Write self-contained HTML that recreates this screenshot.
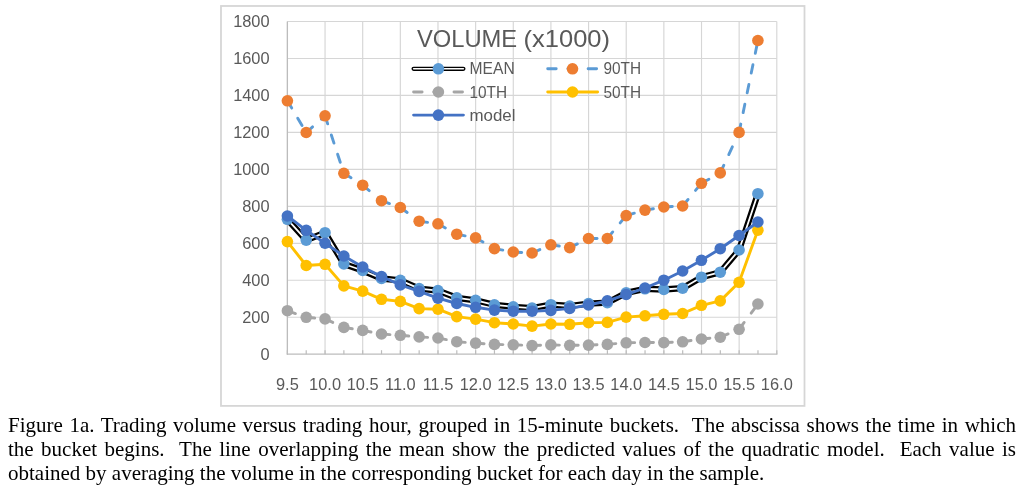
<!DOCTYPE html>
<html><head><meta charset="utf-8"><title>Figure 1a</title>
<style>
html,body{margin:0;padding:0;background:#fff;}
body{width:1027px;height:489px;position:relative;overflow:hidden;}
.cap{position:absolute;left:8px;top:413px;width:1008px;font-family:"Liberation Serif","Times New Roman",serif;font-size:21px;line-height:24px;color:#000;}
.cap div{white-space:pre;text-align:justify;text-align-last:justify;height:24px;}
.cap div.last{text-align-last:left;}
</style></head><body>
<svg width="1027" height="489" viewBox="0 0 1027 489" style="position:absolute;left:0;top:0" font-family="'Liberation Sans', Arial, sans-serif">
<rect x="221" y="6" width="583.5" height="399.9" fill="#fff" stroke="#d6d6d6" stroke-width="1.8"/>
<line x1="287.4" y1="317.23" x2="776.8" y2="317.23" stroke="#d6d6d6" stroke-width="1.15"/>
<line x1="287.4" y1="280.27" x2="776.8" y2="280.27" stroke="#d6d6d6" stroke-width="1.15"/>
<line x1="287.4" y1="243.30" x2="776.8" y2="243.30" stroke="#d6d6d6" stroke-width="1.15"/>
<line x1="287.4" y1="206.33" x2="776.8" y2="206.33" stroke="#d6d6d6" stroke-width="1.15"/>
<line x1="287.4" y1="169.37" x2="776.8" y2="169.37" stroke="#d6d6d6" stroke-width="1.15"/>
<line x1="287.4" y1="132.40" x2="776.8" y2="132.40" stroke="#d6d6d6" stroke-width="1.15"/>
<line x1="287.4" y1="95.43" x2="776.8" y2="95.43" stroke="#d6d6d6" stroke-width="1.15"/>
<line x1="287.4" y1="58.47" x2="776.8" y2="58.47" stroke="#d6d6d6" stroke-width="1.15"/>
<line x1="287.4" y1="21.50" x2="776.8" y2="21.50" stroke="#d6d6d6" stroke-width="1.15"/>
<line x1="287.40" y1="21.5" x2="287.40" y2="354.2" stroke="#d6d6d6" stroke-width="1.15"/>
<line x1="325.05" y1="21.5" x2="325.05" y2="354.2" stroke="#d6d6d6" stroke-width="1.15"/>
<line x1="362.69" y1="21.5" x2="362.69" y2="354.2" stroke="#d6d6d6" stroke-width="1.15"/>
<line x1="400.34" y1="21.5" x2="400.34" y2="354.2" stroke="#d6d6d6" stroke-width="1.15"/>
<line x1="437.98" y1="21.5" x2="437.98" y2="354.2" stroke="#d6d6d6" stroke-width="1.15"/>
<line x1="475.63" y1="21.5" x2="475.63" y2="354.2" stroke="#d6d6d6" stroke-width="1.15"/>
<line x1="513.28" y1="21.5" x2="513.28" y2="354.2" stroke="#d6d6d6" stroke-width="1.15"/>
<line x1="550.92" y1="21.5" x2="550.92" y2="354.2" stroke="#d6d6d6" stroke-width="1.15"/>
<line x1="588.57" y1="21.5" x2="588.57" y2="354.2" stroke="#d6d6d6" stroke-width="1.15"/>
<line x1="626.22" y1="21.5" x2="626.22" y2="354.2" stroke="#d6d6d6" stroke-width="1.15"/>
<line x1="663.86" y1="21.5" x2="663.86" y2="354.2" stroke="#d6d6d6" stroke-width="1.15"/>
<line x1="701.51" y1="21.5" x2="701.51" y2="354.2" stroke="#d6d6d6" stroke-width="1.15"/>
<line x1="739.15" y1="21.5" x2="739.15" y2="354.2" stroke="#d6d6d6" stroke-width="1.15"/>
<line x1="776.80" y1="21.5" x2="776.80" y2="354.2" stroke="#d6d6d6" stroke-width="1.15"/>
<line x1="287.4" y1="21.5" x2="287.4" y2="354.8" stroke="#bcbcbc" stroke-width="1.25"/>
<line x1="286.79999999999995" y1="354.2" x2="777.4" y2="354.2" stroke="#bcbcbc" stroke-width="1.25"/>
<line x1="287.40" y1="350.2" x2="287.40" y2="354.2" stroke="#bcbcbc" stroke-width="1.2"/>
<line x1="306.22" y1="350.2" x2="306.22" y2="354.2" stroke="#bcbcbc" stroke-width="1.2"/>
<line x1="325.05" y1="350.2" x2="325.05" y2="354.2" stroke="#bcbcbc" stroke-width="1.2"/>
<line x1="343.87" y1="350.2" x2="343.87" y2="354.2" stroke="#bcbcbc" stroke-width="1.2"/>
<line x1="362.69" y1="350.2" x2="362.69" y2="354.2" stroke="#bcbcbc" stroke-width="1.2"/>
<line x1="381.52" y1="350.2" x2="381.52" y2="354.2" stroke="#bcbcbc" stroke-width="1.2"/>
<line x1="400.34" y1="350.2" x2="400.34" y2="354.2" stroke="#bcbcbc" stroke-width="1.2"/>
<line x1="419.16" y1="350.2" x2="419.16" y2="354.2" stroke="#bcbcbc" stroke-width="1.2"/>
<line x1="437.98" y1="350.2" x2="437.98" y2="354.2" stroke="#bcbcbc" stroke-width="1.2"/>
<line x1="456.81" y1="350.2" x2="456.81" y2="354.2" stroke="#bcbcbc" stroke-width="1.2"/>
<line x1="475.63" y1="350.2" x2="475.63" y2="354.2" stroke="#bcbcbc" stroke-width="1.2"/>
<line x1="494.45" y1="350.2" x2="494.45" y2="354.2" stroke="#bcbcbc" stroke-width="1.2"/>
<line x1="513.28" y1="350.2" x2="513.28" y2="354.2" stroke="#bcbcbc" stroke-width="1.2"/>
<line x1="532.10" y1="350.2" x2="532.10" y2="354.2" stroke="#bcbcbc" stroke-width="1.2"/>
<line x1="550.92" y1="350.2" x2="550.92" y2="354.2" stroke="#bcbcbc" stroke-width="1.2"/>
<line x1="569.75" y1="350.2" x2="569.75" y2="354.2" stroke="#bcbcbc" stroke-width="1.2"/>
<line x1="588.57" y1="350.2" x2="588.57" y2="354.2" stroke="#bcbcbc" stroke-width="1.2"/>
<line x1="607.39" y1="350.2" x2="607.39" y2="354.2" stroke="#bcbcbc" stroke-width="1.2"/>
<line x1="626.22" y1="350.2" x2="626.22" y2="354.2" stroke="#bcbcbc" stroke-width="1.2"/>
<line x1="645.04" y1="350.2" x2="645.04" y2="354.2" stroke="#bcbcbc" stroke-width="1.2"/>
<line x1="663.86" y1="350.2" x2="663.86" y2="354.2" stroke="#bcbcbc" stroke-width="1.2"/>
<line x1="682.68" y1="350.2" x2="682.68" y2="354.2" stroke="#bcbcbc" stroke-width="1.2"/>
<line x1="701.51" y1="350.2" x2="701.51" y2="354.2" stroke="#bcbcbc" stroke-width="1.2"/>
<line x1="720.33" y1="350.2" x2="720.33" y2="354.2" stroke="#bcbcbc" stroke-width="1.2"/>
<line x1="739.15" y1="350.2" x2="739.15" y2="354.2" stroke="#bcbcbc" stroke-width="1.2"/>
<line x1="757.98" y1="350.2" x2="757.98" y2="354.2" stroke="#bcbcbc" stroke-width="1.2"/>
<line x1="776.80" y1="350.2" x2="776.80" y2="354.2" stroke="#bcbcbc" stroke-width="1.2"/>
<text x="269.6" y="360.10" font-size="16.4" fill="#595959" text-anchor="end">0</text>
<text x="269.6" y="323.13" font-size="16.4" fill="#595959" text-anchor="end">200</text>
<text x="269.6" y="286.17" font-size="16.4" fill="#595959" text-anchor="end">400</text>
<text x="269.6" y="249.20" font-size="16.4" fill="#595959" text-anchor="end">600</text>
<text x="269.6" y="212.23" font-size="16.4" fill="#595959" text-anchor="end">800</text>
<text x="269.6" y="175.27" font-size="16.4" fill="#595959" text-anchor="end">1000</text>
<text x="269.6" y="138.30" font-size="16.4" fill="#595959" text-anchor="end">1200</text>
<text x="269.6" y="101.33" font-size="16.4" fill="#595959" text-anchor="end">1400</text>
<text x="269.6" y="64.37" font-size="16.4" fill="#595959" text-anchor="end">1600</text>
<text x="269.6" y="27.40" font-size="16.4" fill="#595959" text-anchor="end">1800</text>
<text x="287.40" y="390" font-size="16.4" fill="#595959" text-anchor="middle">9.5</text>
<text x="325.05" y="390" font-size="16.4" fill="#595959" text-anchor="middle">10.0</text>
<text x="362.69" y="390" font-size="16.4" fill="#595959" text-anchor="middle">10.5</text>
<text x="400.34" y="390" font-size="16.4" fill="#595959" text-anchor="middle">11.0</text>
<text x="437.98" y="390" font-size="16.4" fill="#595959" text-anchor="middle">11.5</text>
<text x="475.63" y="390" font-size="16.4" fill="#595959" text-anchor="middle">12.0</text>
<text x="513.28" y="390" font-size="16.4" fill="#595959" text-anchor="middle">12.5</text>
<text x="550.92" y="390" font-size="16.4" fill="#595959" text-anchor="middle">13.0</text>
<text x="588.57" y="390" font-size="16.4" fill="#595959" text-anchor="middle">13.5</text>
<text x="626.22" y="390" font-size="16.4" fill="#595959" text-anchor="middle">14.0</text>
<text x="663.86" y="390" font-size="16.4" fill="#595959" text-anchor="middle">14.5</text>
<text x="701.51" y="390" font-size="16.4" fill="#595959" text-anchor="middle">15.0</text>
<text x="739.15" y="390" font-size="16.4" fill="#595959" text-anchor="middle">15.5</text>
<text x="776.80" y="390" font-size="16.4" fill="#595959" text-anchor="middle">16.0</text>
<text x="416.9" y="47.3" font-size="24" fill="#595959" textLength="100.3" lengthAdjust="spacingAndGlyphs">VOLUME</text>
<text x="523.5" y="47.3" font-size="24" fill="#595959" textLength="86.5" lengthAdjust="spacingAndGlyphs">(x1000)</text>
<polyline points="287.40,219.30 306.22,240.10 325.04,232.70 343.86,264.00 362.68,270.50 381.50,278.50 400.32,280.40 419.14,288.60 437.96,290.60 456.78,297.80 475.60,300.30 494.42,304.80 513.24,306.80 532.06,308.10 550.88,304.70 569.70,306.00 588.52,303.60 607.34,302.70 626.16,292.90 644.98,288.80 663.80,289.50 682.62,288.20 701.44,277.20 720.26,272.20 739.08,250.00 757.90,193.70" fill="none" stroke="#000" stroke-width="6.3" stroke-linecap="round" stroke-linejoin="round"/>
<polyline points="287.40,219.30 306.22,240.10 325.04,232.70 343.86,264.00 362.68,270.50 381.50,278.50 400.32,280.40 419.14,288.60 437.96,290.60 456.78,297.80 475.60,300.30 494.42,304.80 513.24,306.80 532.06,308.10 550.88,304.70 569.70,306.00 588.52,303.60 607.34,302.70 626.16,292.90 644.98,288.80 663.80,289.50 682.62,288.20 701.44,277.20 720.26,272.20 739.08,250.00 757.90,193.70" fill="none" stroke="#fff" stroke-width="1.8" stroke-linecap="round" stroke-linejoin="round"/>
<circle cx="287.40" cy="219.30" r="5.8" fill="#5b9bd5"/><circle cx="306.22" cy="240.10" r="5.8" fill="#5b9bd5"/><circle cx="325.04" cy="232.70" r="5.8" fill="#5b9bd5"/><circle cx="343.86" cy="264.00" r="5.8" fill="#5b9bd5"/><circle cx="362.68" cy="270.50" r="5.8" fill="#5b9bd5"/><circle cx="381.50" cy="278.50" r="5.8" fill="#5b9bd5"/><circle cx="400.32" cy="280.40" r="5.8" fill="#5b9bd5"/><circle cx="419.14" cy="288.60" r="5.8" fill="#5b9bd5"/><circle cx="437.96" cy="290.60" r="5.8" fill="#5b9bd5"/><circle cx="456.78" cy="297.80" r="5.8" fill="#5b9bd5"/><circle cx="475.60" cy="300.30" r="5.8" fill="#5b9bd5"/><circle cx="494.42" cy="304.80" r="5.8" fill="#5b9bd5"/><circle cx="513.24" cy="306.80" r="5.8" fill="#5b9bd5"/><circle cx="532.06" cy="308.10" r="5.8" fill="#5b9bd5"/><circle cx="550.88" cy="304.70" r="5.8" fill="#5b9bd5"/><circle cx="569.70" cy="306.00" r="5.8" fill="#5b9bd5"/><circle cx="588.52" cy="303.60" r="5.8" fill="#5b9bd5"/><circle cx="607.34" cy="302.70" r="5.8" fill="#5b9bd5"/><circle cx="626.16" cy="292.90" r="5.8" fill="#5b9bd5"/><circle cx="644.98" cy="288.80" r="5.8" fill="#5b9bd5"/><circle cx="663.80" cy="289.50" r="5.8" fill="#5b9bd5"/><circle cx="682.62" cy="288.20" r="5.8" fill="#5b9bd5"/><circle cx="701.44" cy="277.20" r="5.8" fill="#5b9bd5"/><circle cx="720.26" cy="272.20" r="5.8" fill="#5b9bd5"/><circle cx="739.08" cy="250.00" r="5.8" fill="#5b9bd5"/><circle cx="757.90" cy="193.70" r="5.8" fill="#5b9bd5"/>
<line x1="287.40" y1="100.80" x2="306.22" y2="132.50" stroke="#5b9bd5" stroke-width="2.9" stroke-dasharray="8.5 11.7" stroke-linecap="round"/><line x1="306.22" y1="132.50" x2="325.04" y2="115.80" stroke="#5b9bd5" stroke-width="2.9" stroke-dasharray="8.5 11.7" stroke-linecap="round"/><line x1="325.04" y1="115.80" x2="343.86" y2="173.30" stroke="#5b9bd5" stroke-width="2.9" stroke-dasharray="8.5 11.7" stroke-linecap="round"/><line x1="343.86" y1="173.30" x2="362.68" y2="185.20" stroke="#5b9bd5" stroke-width="2.9" stroke-dasharray="8.5 11.7" stroke-linecap="round"/><line x1="362.68" y1="185.20" x2="381.50" y2="200.70" stroke="#5b9bd5" stroke-width="2.9" stroke-dasharray="8.5 11.7" stroke-linecap="round"/><line x1="381.50" y1="200.70" x2="400.32" y2="207.50" stroke="#5b9bd5" stroke-width="2.9" stroke-dasharray="8.5 11.7" stroke-linecap="round"/><line x1="400.32" y1="207.50" x2="419.14" y2="221.20" stroke="#5b9bd5" stroke-width="2.9" stroke-dasharray="8.5 11.7" stroke-linecap="round"/><line x1="419.14" y1="221.20" x2="437.96" y2="223.80" stroke="#5b9bd5" stroke-width="2.9" stroke-dasharray="8.5 11.7" stroke-linecap="round"/><line x1="437.96" y1="223.80" x2="456.78" y2="234.20" stroke="#5b9bd5" stroke-width="2.9" stroke-dasharray="8.5 11.7" stroke-linecap="round"/><line x1="456.78" y1="234.20" x2="475.60" y2="237.90" stroke="#5b9bd5" stroke-width="2.9" stroke-dasharray="8.5 11.7" stroke-linecap="round"/><line x1="475.60" y1="237.90" x2="494.42" y2="248.60" stroke="#5b9bd5" stroke-width="2.9" stroke-dasharray="8.5 11.7" stroke-linecap="round"/><line x1="494.42" y1="248.60" x2="513.24" y2="252.00" stroke="#5b9bd5" stroke-width="2.9" stroke-dasharray="8.5 11.7" stroke-linecap="round"/><line x1="513.24" y1="252.00" x2="532.06" y2="253.00" stroke="#5b9bd5" stroke-width="2.9" stroke-dasharray="8.5 11.7" stroke-linecap="round"/><line x1="532.06" y1="253.00" x2="550.88" y2="244.80" stroke="#5b9bd5" stroke-width="2.9" stroke-dasharray="8.5 11.7" stroke-linecap="round"/><line x1="550.88" y1="244.80" x2="569.70" y2="247.60" stroke="#5b9bd5" stroke-width="2.9" stroke-dasharray="8.5 11.7" stroke-linecap="round"/><line x1="569.70" y1="247.60" x2="588.52" y2="238.50" stroke="#5b9bd5" stroke-width="2.9" stroke-dasharray="8.5 11.7" stroke-linecap="round"/><line x1="588.52" y1="238.50" x2="607.34" y2="238.50" stroke="#5b9bd5" stroke-width="2.9" stroke-dasharray="8.5 11.7" stroke-linecap="round"/><line x1="607.34" y1="238.50" x2="626.16" y2="215.60" stroke="#5b9bd5" stroke-width="2.9" stroke-dasharray="8.5 11.7" stroke-linecap="round"/><line x1="626.16" y1="215.60" x2="644.98" y2="210.10" stroke="#5b9bd5" stroke-width="2.9" stroke-dasharray="8.5 11.7" stroke-linecap="round"/><line x1="644.98" y1="210.10" x2="663.80" y2="207.00" stroke="#5b9bd5" stroke-width="2.9" stroke-dasharray="8.5 11.7" stroke-linecap="round"/><line x1="663.80" y1="207.00" x2="682.62" y2="206.00" stroke="#5b9bd5" stroke-width="2.9" stroke-dasharray="8.5 11.7" stroke-linecap="round"/><line x1="682.62" y1="206.00" x2="701.44" y2="183.30" stroke="#5b9bd5" stroke-width="2.9" stroke-dasharray="8.5 11.7" stroke-linecap="round"/><line x1="701.44" y1="183.30" x2="720.26" y2="172.90" stroke="#5b9bd5" stroke-width="2.9" stroke-dasharray="8.5 11.7" stroke-linecap="round"/><line x1="720.26" y1="172.90" x2="739.08" y2="132.40" stroke="#5b9bd5" stroke-width="2.9" stroke-dasharray="8.5 11.7" stroke-linecap="round"/><line x1="739.08" y1="132.40" x2="757.90" y2="40.50" stroke="#5b9bd5" stroke-width="2.9" stroke-dasharray="8.5 11.7" stroke-linecap="round"/>
<circle cx="287.40" cy="100.80" r="5.8" fill="#ed7d31"/><circle cx="306.22" cy="132.50" r="5.8" fill="#ed7d31"/><circle cx="325.04" cy="115.80" r="5.8" fill="#ed7d31"/><circle cx="343.86" cy="173.30" r="5.8" fill="#ed7d31"/><circle cx="362.68" cy="185.20" r="5.8" fill="#ed7d31"/><circle cx="381.50" cy="200.70" r="5.8" fill="#ed7d31"/><circle cx="400.32" cy="207.50" r="5.8" fill="#ed7d31"/><circle cx="419.14" cy="221.20" r="5.8" fill="#ed7d31"/><circle cx="437.96" cy="223.80" r="5.8" fill="#ed7d31"/><circle cx="456.78" cy="234.20" r="5.8" fill="#ed7d31"/><circle cx="475.60" cy="237.90" r="5.8" fill="#ed7d31"/><circle cx="494.42" cy="248.60" r="5.8" fill="#ed7d31"/><circle cx="513.24" cy="252.00" r="5.8" fill="#ed7d31"/><circle cx="532.06" cy="253.00" r="5.8" fill="#ed7d31"/><circle cx="550.88" cy="244.80" r="5.8" fill="#ed7d31"/><circle cx="569.70" cy="247.60" r="5.8" fill="#ed7d31"/><circle cx="588.52" cy="238.50" r="5.8" fill="#ed7d31"/><circle cx="607.34" cy="238.50" r="5.8" fill="#ed7d31"/><circle cx="626.16" cy="215.60" r="5.8" fill="#ed7d31"/><circle cx="644.98" cy="210.10" r="5.8" fill="#ed7d31"/><circle cx="663.80" cy="207.00" r="5.8" fill="#ed7d31"/><circle cx="682.62" cy="206.00" r="5.8" fill="#ed7d31"/><circle cx="701.44" cy="183.30" r="5.8" fill="#ed7d31"/><circle cx="720.26" cy="172.90" r="5.8" fill="#ed7d31"/><circle cx="739.08" cy="132.40" r="5.8" fill="#ed7d31"/><circle cx="757.90" cy="40.50" r="5.8" fill="#ed7d31"/>
<line x1="287.40" y1="310.70" x2="306.22" y2="317.30" stroke="#a5a5a5" stroke-width="2.9" stroke-dasharray="8.5 11.7" stroke-linecap="round"/><line x1="306.22" y1="317.30" x2="325.04" y2="318.90" stroke="#a5a5a5" stroke-width="2.9" stroke-dasharray="8.5 11.7" stroke-linecap="round"/><line x1="325.04" y1="318.90" x2="343.86" y2="327.40" stroke="#a5a5a5" stroke-width="2.9" stroke-dasharray="8.5 11.7" stroke-linecap="round"/><line x1="343.86" y1="327.40" x2="362.68" y2="330.40" stroke="#a5a5a5" stroke-width="2.9" stroke-dasharray="8.5 11.7" stroke-linecap="round"/><line x1="362.68" y1="330.40" x2="381.50" y2="334.00" stroke="#a5a5a5" stroke-width="2.9" stroke-dasharray="8.5 11.7" stroke-linecap="round"/><line x1="381.50" y1="334.00" x2="400.32" y2="335.30" stroke="#a5a5a5" stroke-width="2.9" stroke-dasharray="8.5 11.7" stroke-linecap="round"/><line x1="400.32" y1="335.30" x2="419.14" y2="336.90" stroke="#a5a5a5" stroke-width="2.9" stroke-dasharray="8.5 11.7" stroke-linecap="round"/><line x1="419.14" y1="336.90" x2="437.96" y2="338.00" stroke="#a5a5a5" stroke-width="2.9" stroke-dasharray="8.5 11.7" stroke-linecap="round"/><line x1="437.96" y1="338.00" x2="456.78" y2="341.70" stroke="#a5a5a5" stroke-width="2.9" stroke-dasharray="8.5 11.7" stroke-linecap="round"/><line x1="456.78" y1="341.70" x2="475.60" y2="343.10" stroke="#a5a5a5" stroke-width="2.9" stroke-dasharray="8.5 11.7" stroke-linecap="round"/><line x1="475.60" y1="343.10" x2="494.42" y2="344.40" stroke="#a5a5a5" stroke-width="2.9" stroke-dasharray="8.5 11.7" stroke-linecap="round"/><line x1="494.42" y1="344.40" x2="513.24" y2="344.80" stroke="#a5a5a5" stroke-width="2.9" stroke-dasharray="8.5 11.7" stroke-linecap="round"/><line x1="513.24" y1="344.80" x2="532.06" y2="345.60" stroke="#a5a5a5" stroke-width="2.9" stroke-dasharray="8.5 11.7" stroke-linecap="round"/><line x1="532.06" y1="345.60" x2="550.88" y2="344.90" stroke="#a5a5a5" stroke-width="2.9" stroke-dasharray="8.5 11.7" stroke-linecap="round"/><line x1="550.88" y1="344.90" x2="569.70" y2="345.30" stroke="#a5a5a5" stroke-width="2.9" stroke-dasharray="8.5 11.7" stroke-linecap="round"/><line x1="569.70" y1="345.30" x2="588.52" y2="345.10" stroke="#a5a5a5" stroke-width="2.9" stroke-dasharray="8.5 11.7" stroke-linecap="round"/><line x1="588.52" y1="345.10" x2="607.34" y2="344.40" stroke="#a5a5a5" stroke-width="2.9" stroke-dasharray="8.5 11.7" stroke-linecap="round"/><line x1="607.34" y1="344.40" x2="626.16" y2="342.80" stroke="#a5a5a5" stroke-width="2.9" stroke-dasharray="8.5 11.7" stroke-linecap="round"/><line x1="626.16" y1="342.80" x2="644.98" y2="342.50" stroke="#a5a5a5" stroke-width="2.9" stroke-dasharray="8.5 11.7" stroke-linecap="round"/><line x1="644.98" y1="342.50" x2="663.80" y2="342.60" stroke="#a5a5a5" stroke-width="2.9" stroke-dasharray="8.5 11.7" stroke-linecap="round"/><line x1="663.80" y1="342.60" x2="682.62" y2="341.80" stroke="#a5a5a5" stroke-width="2.9" stroke-dasharray="8.5 11.7" stroke-linecap="round"/><line x1="682.62" y1="341.80" x2="701.44" y2="339.00" stroke="#a5a5a5" stroke-width="2.9" stroke-dasharray="8.5 11.7" stroke-linecap="round"/><line x1="701.44" y1="339.00" x2="720.26" y2="337.20" stroke="#a5a5a5" stroke-width="2.9" stroke-dasharray="8.5 11.7" stroke-linecap="round"/><line x1="720.26" y1="337.20" x2="739.08" y2="329.30" stroke="#a5a5a5" stroke-width="2.9" stroke-dasharray="8.5 11.7" stroke-linecap="round"/><line x1="739.08" y1="329.30" x2="757.90" y2="304.00" stroke="#a5a5a5" stroke-width="2.9" stroke-dasharray="8.5 11.7" stroke-linecap="round"/>
<circle cx="287.40" cy="310.70" r="5.8" fill="#a5a5a5"/><circle cx="306.22" cy="317.30" r="5.8" fill="#a5a5a5"/><circle cx="325.04" cy="318.90" r="5.8" fill="#a5a5a5"/><circle cx="343.86" cy="327.40" r="5.8" fill="#a5a5a5"/><circle cx="362.68" cy="330.40" r="5.8" fill="#a5a5a5"/><circle cx="381.50" cy="334.00" r="5.8" fill="#a5a5a5"/><circle cx="400.32" cy="335.30" r="5.8" fill="#a5a5a5"/><circle cx="419.14" cy="336.90" r="5.8" fill="#a5a5a5"/><circle cx="437.96" cy="338.00" r="5.8" fill="#a5a5a5"/><circle cx="456.78" cy="341.70" r="5.8" fill="#a5a5a5"/><circle cx="475.60" cy="343.10" r="5.8" fill="#a5a5a5"/><circle cx="494.42" cy="344.40" r="5.8" fill="#a5a5a5"/><circle cx="513.24" cy="344.80" r="5.8" fill="#a5a5a5"/><circle cx="532.06" cy="345.60" r="5.8" fill="#a5a5a5"/><circle cx="550.88" cy="344.90" r="5.8" fill="#a5a5a5"/><circle cx="569.70" cy="345.30" r="5.8" fill="#a5a5a5"/><circle cx="588.52" cy="345.10" r="5.8" fill="#a5a5a5"/><circle cx="607.34" cy="344.40" r="5.8" fill="#a5a5a5"/><circle cx="626.16" cy="342.80" r="5.8" fill="#a5a5a5"/><circle cx="644.98" cy="342.50" r="5.8" fill="#a5a5a5"/><circle cx="663.80" cy="342.60" r="5.8" fill="#a5a5a5"/><circle cx="682.62" cy="341.80" r="5.8" fill="#a5a5a5"/><circle cx="701.44" cy="339.00" r="5.8" fill="#a5a5a5"/><circle cx="720.26" cy="337.20" r="5.8" fill="#a5a5a5"/><circle cx="739.08" cy="329.30" r="5.8" fill="#a5a5a5"/><circle cx="757.90" cy="304.00" r="5.8" fill="#a5a5a5"/>
<polyline points="287.40,241.60 306.22,265.50 325.04,264.30 343.86,285.90 362.68,291.10 381.50,299.30 400.32,301.40 419.14,308.60 437.96,309.20 456.78,316.60 475.60,319.10 494.42,322.70 513.24,324.00 532.06,326.10 550.88,324.00 569.70,324.30 588.52,322.70 607.34,322.40 626.16,317.10 644.98,315.80 663.80,314.30 682.62,313.50 701.44,305.30 720.26,300.90 739.08,282.30 757.90,230.20" fill="none" stroke="#ffc000" stroke-width="2.9" stroke-linecap="round" stroke-linejoin="round"/>
<circle cx="287.40" cy="241.60" r="5.8" fill="#ffc000"/><circle cx="306.22" cy="265.50" r="5.8" fill="#ffc000"/><circle cx="325.04" cy="264.30" r="5.8" fill="#ffc000"/><circle cx="343.86" cy="285.90" r="5.8" fill="#ffc000"/><circle cx="362.68" cy="291.10" r="5.8" fill="#ffc000"/><circle cx="381.50" cy="299.30" r="5.8" fill="#ffc000"/><circle cx="400.32" cy="301.40" r="5.8" fill="#ffc000"/><circle cx="419.14" cy="308.60" r="5.8" fill="#ffc000"/><circle cx="437.96" cy="309.20" r="5.8" fill="#ffc000"/><circle cx="456.78" cy="316.60" r="5.8" fill="#ffc000"/><circle cx="475.60" cy="319.10" r="5.8" fill="#ffc000"/><circle cx="494.42" cy="322.70" r="5.8" fill="#ffc000"/><circle cx="513.24" cy="324.00" r="5.8" fill="#ffc000"/><circle cx="532.06" cy="326.10" r="5.8" fill="#ffc000"/><circle cx="550.88" cy="324.00" r="5.8" fill="#ffc000"/><circle cx="569.70" cy="324.30" r="5.8" fill="#ffc000"/><circle cx="588.52" cy="322.70" r="5.8" fill="#ffc000"/><circle cx="607.34" cy="322.40" r="5.8" fill="#ffc000"/><circle cx="626.16" cy="317.10" r="5.8" fill="#ffc000"/><circle cx="644.98" cy="315.80" r="5.8" fill="#ffc000"/><circle cx="663.80" cy="314.30" r="5.8" fill="#ffc000"/><circle cx="682.62" cy="313.50" r="5.8" fill="#ffc000"/><circle cx="701.44" cy="305.30" r="5.8" fill="#ffc000"/><circle cx="720.26" cy="300.90" r="5.8" fill="#ffc000"/><circle cx="739.08" cy="282.30" r="5.8" fill="#ffc000"/><circle cx="757.90" cy="230.20" r="5.8" fill="#ffc000"/>
<polyline points="287.40,216.00 306.22,230.30 325.04,243.20 343.86,256.00 362.68,267.00 381.50,276.50 400.32,284.90 419.14,291.40 437.96,298.20 456.78,303.50 475.60,307.30 494.42,310.10 513.24,311.20 532.06,311.20 550.88,310.40 569.70,308.40 588.52,305.00 607.34,300.80 626.16,294.50 644.98,288.00 663.80,280.20 682.62,271.00 701.44,260.30 720.26,248.70 739.08,235.50 757.90,222.00" fill="none" stroke="#4472c4" stroke-width="2.9" stroke-linecap="round" stroke-linejoin="round"/>
<circle cx="287.40" cy="216.00" r="5.8" fill="#4472c4"/><circle cx="306.22" cy="230.30" r="5.8" fill="#4472c4"/><circle cx="325.04" cy="243.20" r="5.8" fill="#4472c4"/><circle cx="343.86" cy="256.00" r="5.8" fill="#4472c4"/><circle cx="362.68" cy="267.00" r="5.8" fill="#4472c4"/><circle cx="381.50" cy="276.50" r="5.8" fill="#4472c4"/><circle cx="400.32" cy="284.90" r="5.8" fill="#4472c4"/><circle cx="419.14" cy="291.40" r="5.8" fill="#4472c4"/><circle cx="437.96" cy="298.20" r="5.8" fill="#4472c4"/><circle cx="456.78" cy="303.50" r="5.8" fill="#4472c4"/><circle cx="475.60" cy="307.30" r="5.8" fill="#4472c4"/><circle cx="494.42" cy="310.10" r="5.8" fill="#4472c4"/><circle cx="513.24" cy="311.20" r="5.8" fill="#4472c4"/><circle cx="532.06" cy="311.20" r="5.8" fill="#4472c4"/><circle cx="550.88" cy="310.40" r="5.8" fill="#4472c4"/><circle cx="569.70" cy="308.40" r="5.8" fill="#4472c4"/><circle cx="588.52" cy="305.00" r="5.8" fill="#4472c4"/><circle cx="607.34" cy="300.80" r="5.8" fill="#4472c4"/><circle cx="626.16" cy="294.50" r="5.8" fill="#4472c4"/><circle cx="644.98" cy="288.00" r="5.8" fill="#4472c4"/><circle cx="663.80" cy="280.20" r="5.8" fill="#4472c4"/><circle cx="682.62" cy="271.00" r="5.8" fill="#4472c4"/><circle cx="701.44" cy="260.30" r="5.8" fill="#4472c4"/><circle cx="720.26" cy="248.70" r="5.8" fill="#4472c4"/><circle cx="739.08" cy="235.50" r="5.8" fill="#4472c4"/><circle cx="757.90" cy="222.00" r="5.8" fill="#4472c4"/>
<line x1="413.6" y1="68.8" x2="463.4" y2="68.8" stroke="#000" stroke-width="4.2" stroke-linecap="round"/>
<line x1="413.6" y1="68.8" x2="463.4" y2="68.8" stroke="#fff" stroke-width="1.5" stroke-linecap="round"/>
<circle cx="438.4" cy="68.8" r="5.8" fill="#5b9bd5"/>
<text x="469.5" y="74.3" font-size="16" fill="#595959" textLength="45.2" lengthAdjust="spacingAndGlyphs">MEAN</text>
<line x1="547.7" y1="68.8" x2="597.6" y2="68.8" stroke="#5b9bd5" stroke-width="2.9" stroke-dasharray="8.5 11.7" stroke-linecap="round"/>
<circle cx="572.5" cy="68.8" r="5.8" fill="#ed7d31"/>
<text x="603.5" y="74.3" font-size="16" fill="#595959" textLength="37.6" lengthAdjust="spacingAndGlyphs">90TH</text>
<line x1="413.6" y1="92.0" x2="463.4" y2="92.0" stroke="#a5a5a5" stroke-width="2.9" stroke-dasharray="8.5 11.7" stroke-linecap="round"/>
<circle cx="438.4" cy="92.0" r="5.8" fill="#a5a5a5"/>
<text x="469.5" y="97.5" font-size="16" fill="#595959" textLength="37.6" lengthAdjust="spacingAndGlyphs">10TH</text>
<line x1="547.7" y1="92.0" x2="597.6" y2="92.0" stroke="#ffc000" stroke-width="2.9" stroke-linecap="round"/>
<circle cx="572.5" cy="92.0" r="5.8" fill="#ffc000"/>
<text x="603.5" y="97.5" font-size="16" fill="#595959" textLength="37.6" lengthAdjust="spacingAndGlyphs">50TH</text>
<line x1="413.6" y1="115.1" x2="463.4" y2="115.1" stroke="#4472c4" stroke-width="2.9" stroke-linecap="round"/>
<circle cx="438.4" cy="115.1" r="5.8" fill="#4472c4"/>
<text x="469.5" y="120.6" font-size="16" fill="#595959" textLength="46" lengthAdjust="spacingAndGlyphs">model</text>
</svg>
<div class="cap">
<div>Figure 1a. Trading volume versus trading hour, grouped in 15-minute buckets.  The abscissa shows the time in which</div>
<div>the bucket begins.  The line overlapping the mean show the predicted values of the quadratic model.  Each value is</div>
<div class="last">obtained by averaging the volume in the corresponding bucket for each day in the sample.</div>
</div>
</body></html>
